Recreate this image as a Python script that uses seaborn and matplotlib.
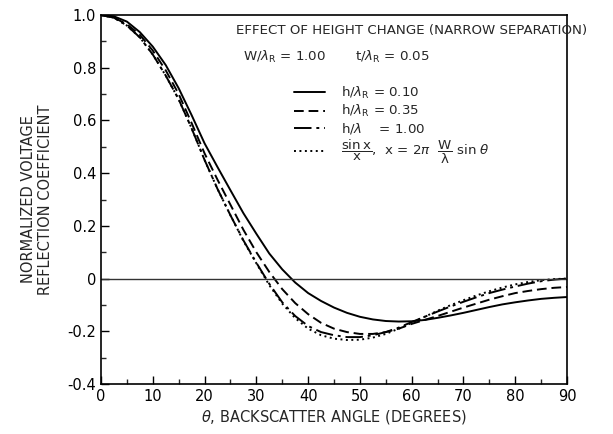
import pandas as pd
import numpy as np
import seaborn as sns
import matplotlib.pyplot as plt
from matplotlib.ticker import MultipleLocator, FixedLocator

# backscatter angle (degrees), every 2.5 degrees
theta = [0, 2.5, 5, 7.5, 10, 12.5, 15, 17.5, 20, 22.5, 25, 27.5, 30, 32.5, 35, 37.5,
         40, 42.5, 45, 47.5, 50, 52.5, 55, 57.5, 60, 62.5, 65, 67.5, 70, 72.5, 75,
         77.5, 80, 82.5, 85, 87.5, 90]

# normalized voltage reflection coefficient
h010 = [1.00, 0.995, 0.975, 0.935, 0.88, 0.81, 0.722, 0.62, 0.513, 0.423, 0.335,
        0.248, 0.17, 0.095, 0.035, -0.015, -0.055, -0.085, -0.11, -0.13, -0.145,
        -0.155, -0.161, -0.163, -0.162, -0.157, -0.149, -0.14, -0.13, -0.119,
        -0.108, -0.098, -0.09, -0.083, -0.077, -0.073, -0.07]
h035 = [1.00, 0.99, 0.965, 0.925, 0.865, 0.79, 0.70, 0.59, 0.475, 0.375, 0.28,
        0.185, 0.10, 0.025, -0.04, -0.093, -0.135, -0.168, -0.19, -0.203, -0.21,
        -0.21, -0.203, -0.19, -0.172, -0.157, -0.142, -0.126, -0.11, -0.095,
        -0.08, -0.067, -0.055, -0.047, -0.04, -0.035, -0.032]
h100 = [1.00, 0.99, 0.96, 0.915, 0.85, 0.77, 0.68, 0.57, 0.45, 0.34, 0.24, 0.145,
        0.06, -0.02, -0.09, -0.142, -0.18, -0.203, -0.215, -0.222, -0.222, -0.215,
        -0.203, -0.186, -0.165, -0.145, -0.125, -0.106, -0.088, -0.071, -0.055,
        -0.042, -0.03, -0.019, -0.01, -0.004, 0.0]
sinc = [1.00, 0.99, 0.96, 0.915, 0.85, 0.77, 0.68, 0.57, 0.45, 0.34, 0.24, 0.143,
        0.058, -0.025, -0.095, -0.15, -0.19, -0.215, -0.228, -0.233, -0.232,
        -0.224, -0.21, -0.19, -0.168, -0.145, -0.122, -0.101, -0.082, -0.064,
        -0.048, -0.034, -0.022, -0.013, -0.006, -0.002, 0.0]

xticks = [0, 10, 20, 30, 40, 50, 60, 70, 80, 90]
yticks = [-0.4, -0.2, 0, 0.2, 0.4, 0.6, 0.8, 1.0]
ytick_labels = ['-0.4', '-0.2', '0', '0.2', '0.4', '0.6', '0.8', '1.0']

sns.set_style('ticks')
plt.rcParams['font.family'] = ['DejaVu Sans']
plt.rcParams['mathtext.fontset'] = 'dejavusans'

fig = plt.figure(figsize=(6.13, 4.34), dpi=100)
ax = fig.add_axes([0.1648, 0.1152, 0.7602, 0.8502])

styles = [
    (h010, r'h/$\lambda_\mathregular{R}$ = 0.10', None),
    (h035, r'h/$\lambda_\mathregular{R}$ = 0.35', (5, 2.5)),
    (h100, r'h/$\lambda$    = 1.00', (9, 2.5, 1.5, 2.5)),
    (sinc, r'$\mathregular{\dfrac{sin\,x}{x}}$,  x = 2$\pi$  $\mathregular{\dfrac{W}{\lambda}}$ sin $\theta$',
     (1, 1.8)),
]
for vals, lab, dash in styles:
    df = pd.DataFrame({'theta': theta, 'value': vals})
    sns.lineplot(data=df, x='theta', y='value', ax=ax, color='black',
                 linewidth=1.4, label=lab)
    if dash is not None:
        ax.lines[-1].set_dashes(dash)

ax.axhline(0, color='#333333', linewidth=1.0)

ax.set_xlim(0, 90)
ax.set_ylim(-0.4, 1.0)
ax.xaxis.set_major_locator(FixedLocator(xticks))
ax.xaxis.set_minor_locator(MultipleLocator(5))
ax.yaxis.set_major_locator(FixedLocator(yticks))
ax.yaxis.set_minor_locator(MultipleLocator(0.1))
ax.set_yticklabels(ytick_labels)
ax.tick_params(which='major', direction='in', length=6, width=1, labelsize=10.5,
               top=False, right=False, colors='black')
ax.tick_params(which='minor', direction='in', length=3.5, width=1, top=False, right=False)
for s in ax.spines.values():
    s.set_linewidth(1.2)
    s.set_color('black')

ax.set_xlabel(r'$\theta$, BACKSCATTER ANGLE (DEGREES)', fontsize=10.5, labelpad=3)
ax.set_ylabel('NORMALIZED VOLTAGE\nREFLECTION COEFFICIENT', fontsize=10.5, labelpad=10)

ax.text(0.29, 0.958, 'EFFECT OF HEIGHT CHANGE (NARROW SEPARATION)', transform=ax.transAxes,
        fontsize=9.6, va='center', ha='left')
ax.text(0.305, 0.885, r'W/$\lambda_\mathregular{R}$ = 1.00', transform=ax.transAxes,
        fontsize=9.6, va='center', ha='left')
ax.text(0.545, 0.885, r't/$\lambda_\mathregular{R}$ = 0.05', transform=ax.transAxes,
        fontsize=9.6, va='center', ha='left')

ax.legend(loc='upper left', bbox_to_anchor=(0.415, 0.81), frameon=False, fontsize=9.6,
          handlelength=2.3, handletextpad=1.2, labelspacing=0.15, borderpad=0,
          borderaxespad=0)

fig.savefig('out.png', dpi=100)
